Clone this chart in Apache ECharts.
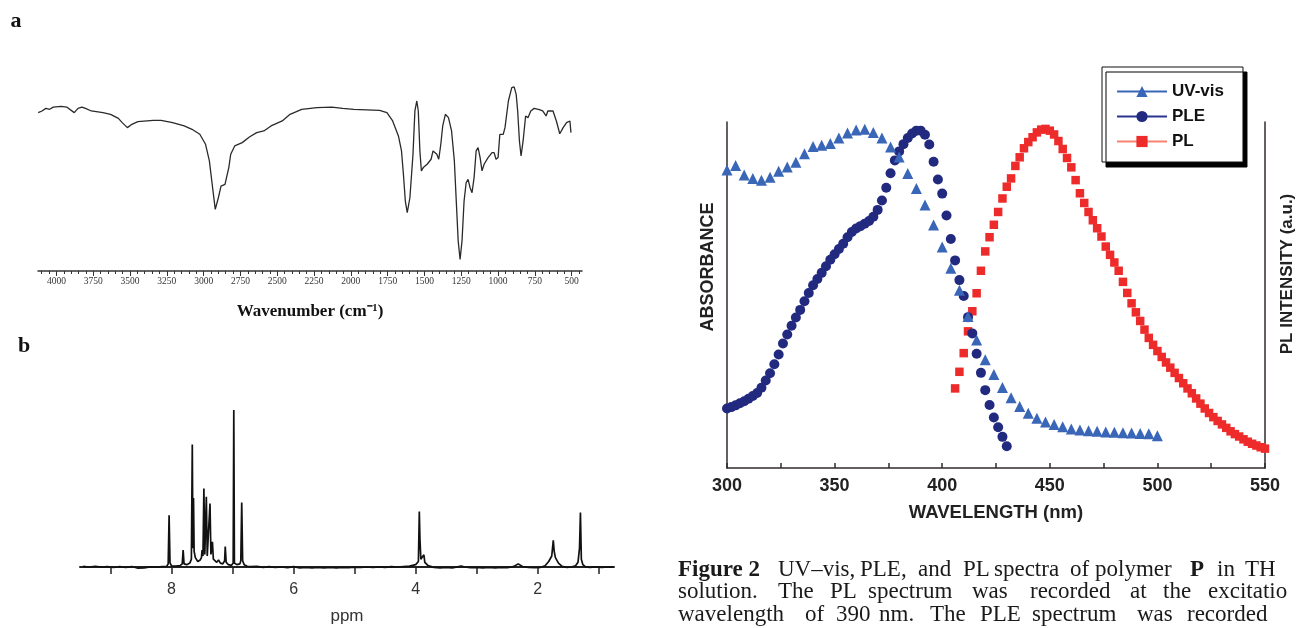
<!DOCTYPE html>
<html><head><meta charset="utf-8">
<script src="https://cdn.jsdelivr.net/npm/echarts@6.0.0/dist/echarts.min.js"></script>
<style>html,body{margin:0;padding:0;background:#fff;}#c{width:1297px;height:628px;}</style>
</head><body><div id="c"></div>
<script>
// ---------- Panel a: IR spectrum ----------
const irWavenumber = [4124,4098,4072,4046,4021,3969,3930,3918,3879,3853,3827,3802,3763,3684,3632,3579,3553,3518,3487,3447,3342,3289,3211,3132,3079,3026,2987,2961,2939,2921,2900,2882,2855,2842,2829,2816,2789,2738,2689,2640,2591,2542,2466,2413,2334,2230,2130,2055,1980,1805,1755,1716,1677,1656,1643,1630,1617,1599,1578,1565,1552,1542,1531,1521,1508,1482,1455,1442,1429,1416,1403,1389,1376,1358,1337,1316,1297,1284,1271,1258,1245,1231,1217,1204,1190,1177,1163,1149,1136,1122,1109,1095,1068,1041,1027,1014,1000,988,965,953,930,907,891,877,867,855,844,830,813,797,778,755,720,697,674,662,627,604,581,558,535,512,505];
const irTransmittance = [85.6,86.5,87.9,87.4,88.6,89.0,88.6,88.3,85.6,87.9,88.6,87.9,86.5,85.6,84.7,82.5,80.2,77.5,79.3,80.7,81.4,81.4,80.2,78.4,76.6,73.9,68.5,59.5,45.0,33.3,39.6,45.9,46.8,47.7,55.9,63.1,67.6,69.4,72.4,74.8,75.7,78.4,81.1,84.7,87.4,88.3,88.6,87.9,87.4,86.8,85.6,81.1,73.0,64.9,52.3,37.8,31.5,39.6,63.1,86.5,91.9,86.5,64.9,54.1,55.9,57.7,60.4,64.9,65.8,63.1,60.4,68.5,78.4,84.7,82.9,75.7,59.5,37.8,16.2,6.3,16.2,37.8,47.7,49.5,45.0,42.3,50.5,64.9,66.7,61.3,54.1,57.7,61.3,64.0,64.0,60.4,61.3,73.9,73.9,77.5,91.9,99.1,99.5,95.5,86.5,70.3,62.2,70.3,83.8,82.9,86.5,87.9,87.2,86.5,83.8,86.5,86.5,81.1,74.2,77.5,80.2,81.1,74.8];
const irTickValues = [4000,3750,3500,3250,3000,2750,2500,2250,2000,1750,1500,1250,1000,750,500];
const irTickLabels = ['4000','3750','3500','3250','3000','2750','2500','2250','2000','1750','1500','1250','1000','750','500'];

// ---------- Panel b: 1H NMR spectrum ----------
const nmrPpm = [9.45,9.35,9.25,9.15,9.05,8.95,8.85,8.75,8.65,8.55,8.45,8.35,8.25,8.15,8.08,8.055,8.04,8.025,8.0,7.93,7.86,7.825,7.81,7.795,7.75,7.70,7.675,7.66,7.65,7.64,7.63,7.61,7.57,7.53,7.51,7.50,7.485,7.47,7.455,7.43,7.415,7.37,7.355,7.33,7.315,7.29,7.26,7.23,7.2,7.16,7.13,7.12,7.105,7.07,7.02,6.99,6.98,6.97,6.93,6.88,6.865,6.85,6.835,6.81,6.76,6.7,6.6,6.5,6.4,6.3,6.2,6.1,6.0,5.9,5.8,5.7,5.6,5.5,5.4,5.3,5.2,5.1,5.0,4.9,4.8,4.7,4.6,4.5,4.4,4.3,4.2,4.1,4.0,3.955,3.94,3.93,3.915,3.89,3.865,3.85,3.8,3.7,3.6,3.5,3.4,3.3,3.25,3.2,3.1,3.0,2.9,2.8,2.7,2.6,2.5,2.4,2.32,2.25,2.15,2.05,1.95,1.88,1.82,1.77,1.745,1.73,1.71,1.66,1.6,1.52,1.45,1.38,1.34,1.315,1.30,1.285,1.26,1.22,1.15,1.05,0.95,0.85,0.76];
const nmrIntensity = [0.4,0.0,0.5,-0.1,0.3,-0.3,0.2,-0.2,0.3,-0.8,-0.5,0.1,-0.1,0.2,0.4,2.0,33.0,2.5,0.8,0.6,0.9,2.0,10.8,2.0,1.5,2.5,5.0,78.0,12.0,44.0,10.0,6.0,3.5,4.5,6.0,10.8,7.0,50.0,8.0,44.7,7.0,40.5,8.0,16.0,5.0,4.5,3.0,4.5,2.5,2.0,4.0,13.0,3.0,1.5,1.0,2.5,100,2.5,1.5,2.0,4.0,41.0,4.0,1.5,0.5,0.2,0.4,-0.2,0.3,-0.3,0.1,-0.4,0.2,-0.5,-0.3,-0.6,-0.2,-0.5,-0.3,-0.6,-0.2,-0.4,-0.1,-0.3,0.0,-0.3,0.1,-0.2,0.2,0.0,0.3,0.6,1.5,3.5,35.4,18.0,5.0,4.0,7.8,3.0,1.0,-0.2,-0.5,-0.2,-0.5,0.2,0.6,0.0,-0.4,-0.2,-0.5,-0.3,-0.5,-0.2,-0.4,0.2,2.0,0.3,-0.3,-0.4,-0.2,0.8,3.5,7.0,17.0,10.0,6.0,2.5,0.4,-0.2,0.0,0.8,3.0,12.0,34.7,5.0,1.5,0.2,-0.3,0.1,-0.2,0.1,-0.1];
const nmrTickValues = [1,2,3,4,5,6,7,8,9];
const nmrLabelValues = [2,4,6,8];

// ---------- Right chart: UV-vis, PLE, PL ----------
const uvWavelength = [300,304,308,312,316,320,324,328,332,336,340,344,348,352,356,360,364,368,372,376,380,384,388,392,396,400,404,408,412,416,420,424,428,432,436,440,444,448,452,456,460,464,468,472,476,480,484,488,492,496,500];
const uvAbsorbance = [86.1,87.4,84.7,83.7,83.2,84.0,85.8,87.0,88.4,90.8,92.9,93.3,93.8,95.4,96.8,97.7,97.9,97.0,95.4,92.8,89.9,85.1,80.8,76.0,70.2,63.9,57.7,51.4,43.8,37.0,31.3,27.0,23.3,20.3,17.8,15.8,14.4,13.3,12.6,11.9,11.3,11.0,10.8,10.6,10.4,10.3,10.2,10.1,10.0,9.9,9.3];
const pleWavelength = [300,302,304,306,308,310,312,314,316,318,320,322,324,326,328,330,332,334,336,338,340,342,344,346,348,350,352,354,356,358,360,362,364,366,368,370,372,374,376,378,380,382,384,386,388,390,392,394,396,398,400,402,404,406,408,410,412,414,416,418,420,422,424,426,428,430];
const pleIntensity = [17.2,17.6,18.1,18.7,19.3,20.0,20.8,21.7,23.2,25.3,27.4,30.0,32.8,36.0,38.6,41.1,43.5,45.7,48.2,50.6,52.8,54.6,56.4,58.3,60.2,61.8,63.3,64.8,66.7,68.2,69.2,69.9,70.6,71.4,72.6,74.6,77.3,81.0,85.2,88.9,91.5,93.6,95.4,96.7,97.5,97.5,96.3,93.5,88.5,83.4,79.3,73.0,66.2,60.0,54.3,49.7,43.6,38.9,33.0,27.5,22.5,18.2,14.6,11.8,9.0,6.3];
const plWavelength = [406,408,410,412,414,416,418,420,422,424,426,428,430,432,434,436,438,440,442,444,446,448,450,452,454,456,458,460,462,464,466,468,470,472,474,476,478,480,482,484,486,488,490,492,494,496,498,500,502,504,506,508,510,512,514,516,518,520,522,524,526,528,530,532,534,536,538,540,542,544,546,548,550];
const plIntensity = [23.0,27.8,33.2,39.5,45.3,50.5,57.0,62.6,66.7,70.3,74.0,77.9,81.3,83.7,87.3,89.8,92.4,94.2,95.6,97.0,97.8,98.0,97.5,96.4,94.5,92.2,89.6,86.9,83.2,79.4,76.6,74.0,71.6,69.3,66.9,64.0,61.6,59.4,57.0,53.8,50.6,47.6,45.0,42.5,40.0,37.6,35.6,33.8,32.1,30.5,29.0,27.5,26.0,24.5,23.0,21.6,20.1,18.6,17.2,15.9,14.7,13.6,12.6,11.6,10.6,9.8,9.1,8.3,7.6,7.0,6.5,6.0,5.6];
const seriesNames = ['UV-vis','PLE','PL'];

// ---------- Caption text ----------
const captionWords = [
  ['Figure 2','UV\u2013vis,','PLE,','and','PL','spectra','of','polymer','P','in','TH'],
  ['solution.','The','PL','spectrum','was','recorded','at','the','excitatio'],
  ['wavelength','of','390','nm.','The','PLE','spectrum','was','recorded']
];
const captionBold = [[true,false,false,false,false,false,false,false,true,false,false],[],[]];

// ---------- layout (positions only) ----------
const captionX = [
  [678,778,860,918,963,994,1070,1095,1190,1217,1245],
  [678,778,830,868,972,1030,1130,1163,1208],
  [678,805,836,879,930,980,1032,1137,1187]
];
const captionY = [570,592,615];

const pairs = (xs, ys) => xs.map((x, i) => [x, ys[i]]);
const irMinor = [];
for (let v = 450; v <= 4100; v += 50) irMinor.push(v);

const graphics = [];
graphics.push({type:'text', x:16, y:21, style:{text:'a', font:'bold 22px "Liberation Serif"', fill:'#111', align:'center', verticalAlign:'middle'}});
graphics.push({type:'text', x:24, y:346, style:{text:'b', font:'bold 22px "Liberation Serif"', fill:'#111', align:'center', verticalAlign:'middle'}});
graphics.push({type:'text', x:708, y:267, rotation:Math.PI/2, style:{text:'ABSORBANCE', font:'bold 18px "Liberation Sans"', fill:'#222', align:'center', verticalAlign:'middle'}});
graphics.push({type:'text', x:1287, y:274, rotation:Math.PI/2, style:{text:'PL INTENSITY (a.u.)', font:'bold 17px "Liberation Sans"', fill:'#222', align:'center', verticalAlign:'middle'}});
captionWords.forEach((line, li) => {
  line.forEach((w, wi) => {
    const bold = captionBold[li][wi];
    graphics.push({type:'text', x:captionX[li][wi], y:captionY[li], style:{text:w, font:(bold?'bold ':'')+'23px "Liberation Serif"', fill:'#1a1a1a', align:'left', verticalAlign:'middle'}});
  });
});

const axisColor = '#333';
const option = {
  animation: false,
  backgroundColor: '#fff',
  grid: [
    {left:38, top:86, width:544, height:185},
    {left:80, top:410, width:534, height:168},
    {left:727, top:122, width:538, height:346}
  ],
  xAxis: [
    {gridIndex:0, type:'value', inverse:true, min:430, max:4125,
     axisLine:{lineStyle:{color:axisColor, width:1.5}},
     axisTick:{customValues:irTickValues, length:5, lineStyle:{color:axisColor}},
     axisLabel:{customValues:irTickValues, formatter:(v)=>{const i=irTickValues.indexOf(v);return i>=0?irTickLabels[i]:'';}, fontFamily:'Liberation Serif', fontSize:9.5, color:'#333', margin:5},
     splitLine:{show:false},
     name:'Wavenumber (cm\u207B\u00B9)', nameLocation:'middle', nameGap:32,
     nameTextStyle:{fontFamily:'Liberation Serif', fontWeight:'bold', fontSize:17, color:'#111'}},
    {gridIndex:0, type:'value', inverse:true, min:430, max:4125, position:'bottom',
     axisLine:{show:false}, axisTick:{customValues:irMinor, length:3, lineStyle:{color:axisColor}},
     axisLabel:{show:false}, splitLine:{show:false}},
    {gridIndex:1, type:'value', inverse:true, min:0.75, max:9.5,
     axisLine:{lineStyle:{color:'#222', width:2}},
     axisTick:{customValues:nmrTickValues, length:7, lineStyle:{color:'#222', width:1.5}},
     axisLabel:{customValues:nmrLabelValues, fontFamily:'Liberation Sans', fontSize:16, color:'#333', margin:4},
     splitLine:{show:false},
     name:'ppm', nameLocation:'middle', nameGap:30,
     nameTextStyle:{fontFamily:'Liberation Sans', fontSize:17, color:'#333'}},
    {gridIndex:2, type:'value', min:300, max:550, interval:50,
     axisLine:{lineStyle:{color:'#332b2b', width:1.5}},
     axisTick:{inside:true, length:5, lineStyle:{color:'#332b2b', width:1.5}},
     minorTick:{show:true, splitNumber:2, length:5, lineStyle:{color:'#332b2b', width:1.5}},
     axisLabel:{fontFamily:'Liberation Sans', fontWeight:'bold', fontSize:18, color:'#222', margin:9},
     splitLine:{show:false},
     name:'WAVELENGTH (nm)', nameLocation:'middle', nameGap:35,
     nameTextStyle:{fontFamily:'Liberation Sans', fontWeight:'bold', fontSize:18.5, color:'#222'}}
  ],
  yAxis: [
    {gridIndex:0, type:'value', min:0, max:100, show:false},
    {gridIndex:1, type:'value', min:-7, max:100, show:false},
    {gridIndex:2, type:'value', min:0, max:100, position:'left',
     axisLine:{show:true, lineStyle:{color:'#332b2b', width:1.5}}, axisTick:{show:false}, axisLabel:{show:false}, splitLine:{show:false}},
    {gridIndex:2, type:'value', min:0, max:100, position:'right',
     axisLine:{show:true, lineStyle:{color:'#332b2b', width:1.5}}, axisTick:{show:false}, axisLabel:{show:false}, splitLine:{show:false}}
  ],
  legend: {
    data:[{name:seriesNames[0]},{name:seriesNames[1]},{name:seriesNames[2]}],
    orient:'vertical', left:1102, top:67, itemWidth:50, itemHeight:14, itemGap:8,
    padding:[16,19,12,14], selectedMode:false,
    backgroundColor:'#fff', borderColor:'#111', borderWidth:1,
    shadowColor:'#000', shadowBlur:0, shadowOffsetX:4, shadowOffsetY:5,
    lineStyle:{width:2, opacity:1},
    textStyle:{fontFamily:'Liberation Sans', fontWeight:'bold', fontSize:17, lineHeight:17, color:'#111'}
  },
  graphic: graphics,
  series: [
    {type:'line', xAxisIndex:0, yAxisIndex:0, data:pairs(irWavenumber, irTransmittance), showSymbol:false, silent:true,
     lineStyle:{color:'#2a2a2a', width:1.3}},
    {type:'line', xAxisIndex:2, yAxisIndex:1, data:pairs(nmrPpm, nmrIntensity), showSymbol:false, silent:true, clip:false,
     lineStyle:{color:'#111', width:1.7}},
    {name:seriesNames[2], type:'line', xAxisIndex:3, yAxisIndex:3, data:pairs(plWavelength, plIntensity),
     symbol:'rect', symbolSize:8.5, showSymbol:true, itemStyle:{color:'#ee2b2b'}, lineStyle:{color:'#f5836f', opacity:0}},
    {name:seriesNames[1], type:'line', xAxisIndex:3, yAxisIndex:2, data:pairs(pleWavelength, pleIntensity),
     symbol:'circle', symbolSize:10, showSymbol:true, itemStyle:{color:'#222a80'}, lineStyle:{color:'#2a3590', opacity:0}},
    {name:seriesNames[0], type:'line', xAxisIndex:3, yAxisIndex:2, data:pairs(uvWavelength, uvAbsorbance),
     symbol:'triangle', symbolSize:11, showSymbol:true, itemStyle:{color:'#3a66b8'}, lineStyle:{color:'#3a66b8', opacity:0}}
  ]
};
const chart = echarts.init(document.getElementById('c'), null, {renderer:'canvas'});
chart.setOption(option);
</script></body></html>
